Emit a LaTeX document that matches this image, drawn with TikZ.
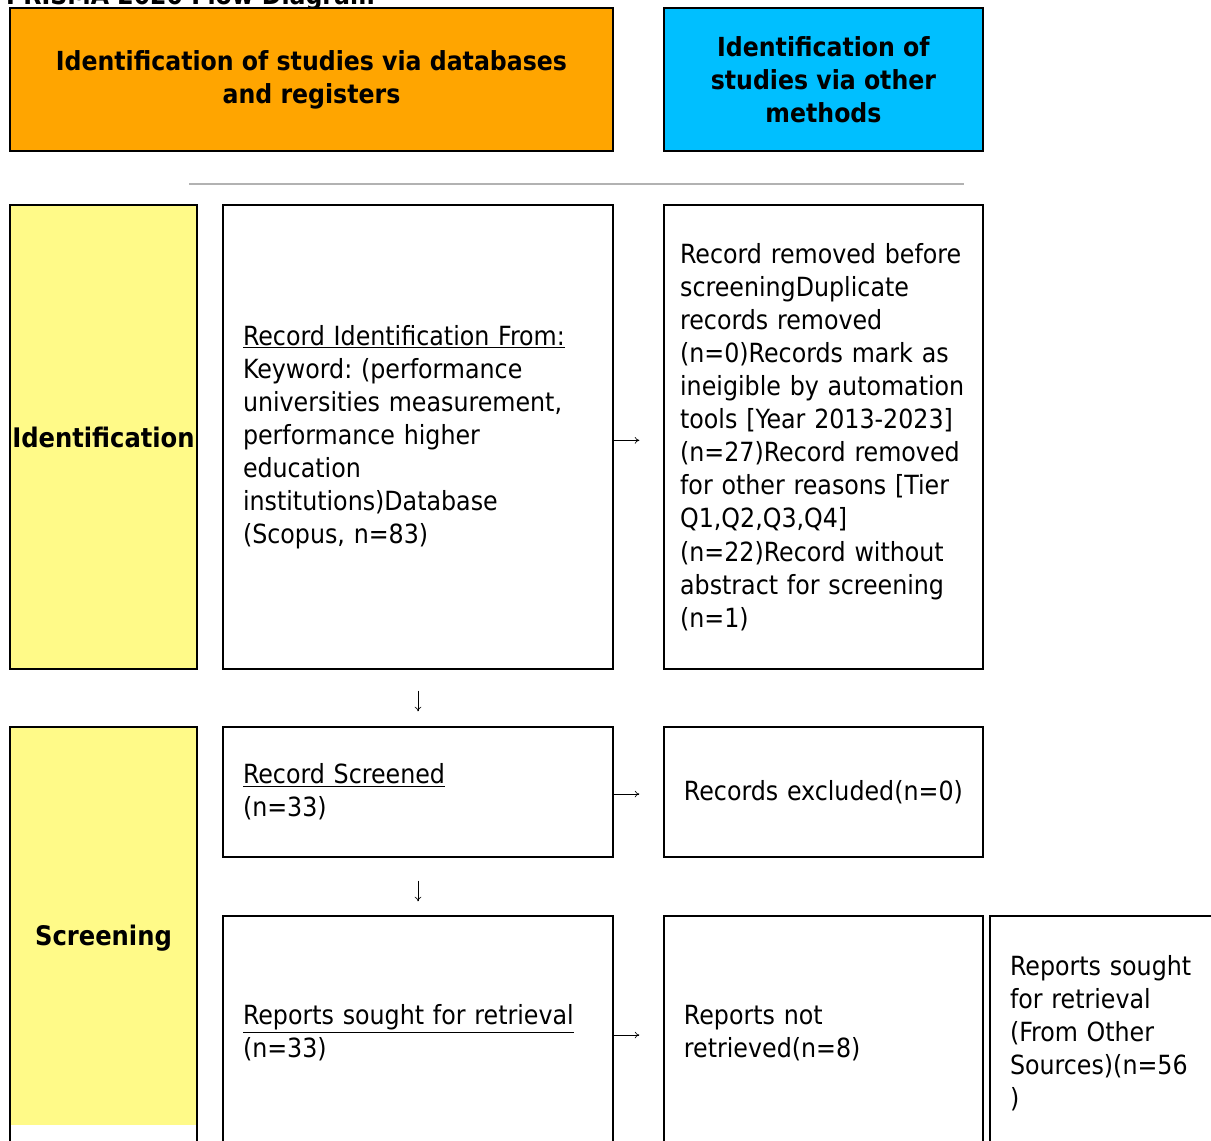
\documentclass[tikz,border=0pt]{standalone}
\usepackage{fontspec}
\setmainfont{DejaVu Sans Condensed}
\usepackage{tikz}
\usetikzlibrary{arrows.meta}
\frenchspacing
\hyphenpenalty=10000
\exhyphenpenalty=10000
\definecolor{dbcol}{HTML}{FFA500}
\definecolor{othcol}{HTML}{00BFFF}
\definecolor{phasecol}{HTML}{FFFA88}
\tikzset{
	hdr/.style={draw, line width=1.1pt, font=\bfseries\fontsize{19.7}{24.8}\selectfont, align=center, inner sep=0pt},
	phase/.style={draw, line width=1.1pt, font=\bfseries\fontsize{20.2}{24.8}\selectfont, align=center, inner sep=0pt},
	box/.style={draw, line width=0.9pt, font=\fontsize{19.8}{24.8}\selectfont, align=left, inner xsep=15pt, inner ysep=0pt},
	flow/.style={line width=0.5pt, -{To[length=3.5pt,width=5pt]}},
}
\begin{document}
\begin{tikzpicture}[x=1pt, y=-1pt]
	\useasboundingbox (0,0) rectangle (908.25,855);
	\node[anchor=base west, font=\bfseries\fontsize{19.7}{24.8}\selectfont] (title) at (1,3) {PRISMA 2020 Flow Diagram};
	\node[hdr, fill=dbcol, minimum width=452.25pt, minimum height=107.25pt] (db) at (233.6,59.6)
		{Identification of studies via databases\\and registers};
	\node[hdr, fill=othcol, minimum width=239.25pt, minimum height=107.25pt] (oth) at (617.6,59.6)
		{Identification of\\studies via other\\methods};
	\draw[black!30, line width=0.8pt] (141.75,138) -- (723,138);
	\node[phase, fill=phasecol, minimum width=140.25pt, minimum height=348pt] (ident) at (77.6,327.75) {Identification};
	\node[box, text width=262.5pt, minimum height=348pt] (found) at (313.5,327.75)
		{\underline{Record Identification From:}\\Keyword: (performance\\universities measurement,\\performance higher\\education\\institutions)Database\\(Scopus, n=83)};
	\node[box, inner xsep=12.1pt, text width=215pt, minimum height=348pt] (removed) at (617.6,327.75)
		{Record removed before\\screeningDuplicate\\records removed\\(n=0)Records mark as\\ineigible by automation\\tools [Year 2013-2023]\\(n=27)Record removed\\for other reasons [Tier\\Q1,Q2,Q3,Q4]\\(n=22)Record without\\abstract for screening\\(n=1)};
	\fill[phasecol] (7.5,545.25) rectangle (147.75,843.75);
	\node[phase, minimum width=140.25pt, minimum height=317.25pt] (screen) at (77.6,703.9) {Screening};
	\node[box, text width=262.5pt, minimum height=97.5pt] (screened) at (313.5,594)
		{\underline{Record Screened}\\(n=33)};
	\node[box, text width=209.25pt, minimum height=97.5pt] (excluded) at (617.6,594)
		{Records excluded(n=0)};
	\node[box, text width=262.5pt, minimum height=175.5pt] (sought) at (313.5,774.75)
		{\underline{Reports sought for retrieval}\\(n=33)};
	\node[box, text width=209.25pt, minimum height=175.5pt] (notret) at (617.6,774.75)
		{Reports not\\retrieved(n=8)};
	\node[box, text width=153.75pt, minimum height=175.5pt] (other) at (834.4,774.75)
		{Reports sought\\for retrieval\\(From Other\\Sources)(n=56\\)};
	\draw[flow, shorten >=18pt] ([yshift=-2.5pt]found.east) -- ([yshift=-2.5pt]removed.west);
	\draw[flow, shorten >=18pt] ([yshift=-1.5pt]screened.east) -- ([yshift=-1.5pt]excluded.west);
	\draw[flow, shorten >=18pt] ([yshift=-1.5pt]sought.east) -- ([yshift=-1.5pt]notret.west);
	\draw[flow, shorten <=15.75pt, shorten >=11.25pt] (found) -- (screened);
	\draw[flow, shorten <=17.25pt, shorten >=10.5pt] (screened) -- (sought);
\end{tikzpicture}
\end{document}
